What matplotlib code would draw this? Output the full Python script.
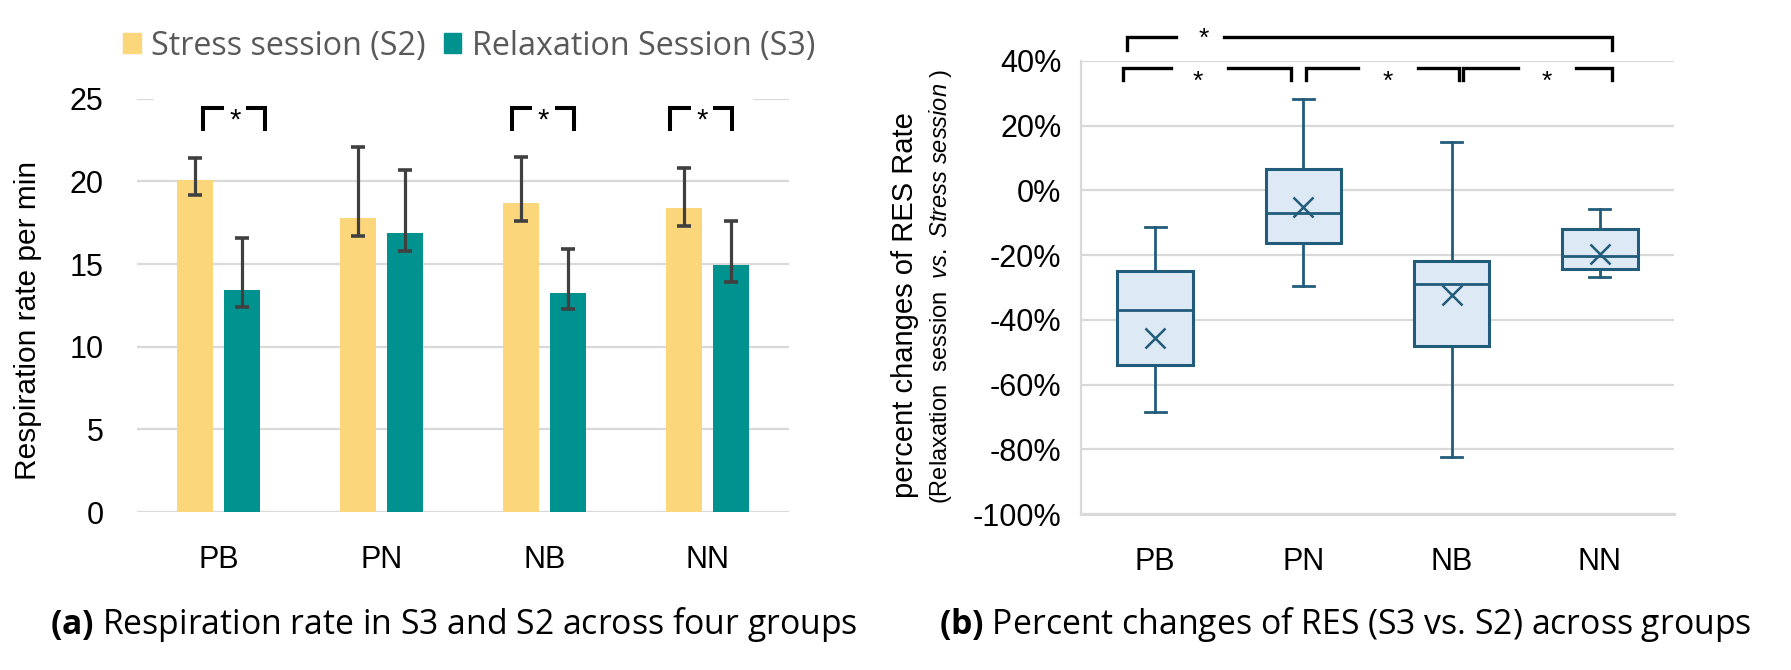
import matplotlib
matplotlib.use('Agg')
import matplotlib.pyplot as plt
from matplotlib.patches import Patch, Rectangle
import numpy as np

plt.rcParams['font.family'] = ['Liberation Sans', 'DejaVu Sans']
plt.rcParams['mathtext.fontset'] = 'custom'
plt.rcParams['mathtext.rm'] = 'Liberation Sans'
plt.rcParams['mathtext.it'] = 'Liberation Sans:italic'
plt.rcParams['mathtext.bf'] = 'Open Sans:bold'

groups = ['PB', 'PN', 'NB', 'NN']

# (a) respiration rate, mean with asymmetric error bars
stress_mean = [20.1, 17.8, 18.7, 18.4]
stress_low = [19.2, 16.7, 17.6, 17.3]
stress_high = [21.4, 22.1, 21.5, 20.8]
relax_mean = [13.4, 16.85, 13.25, 14.95]
relax_low = [12.4, 15.8, 12.25, 13.9]
relax_high = [16.6, 20.7, 15.9, 17.6]

# (b) percent change box plots
whis_lo = [-68.6, -29.6, -82.3, -26.9]
q1 = [-54.1, -16.1, -48.0, -24.2]
median = [-37.1, -6.9, -28.9, -20.3]
q3 = [-24.9, 6.5, -21.9, -11.9]
whis_hi = [-11.2, 28.4, 15.1, -5.6]
mean = [-45.7, -5.1, -32.4, -19.5]

YELLOW = '#FCD67A'
TEAL = '#00928F'
GRID = '#D9D9D9'
BOXC = '#215C7B'
BOXF = '#DDEAF6'

W, H = 1791, 670
fig = plt.figure(figsize=(W / 100, H / 100), dpi=100)

# ---------- (a) ----------
ax1 = fig.add_axes([137 / W, 1 - 512 / H, (789 - 137) / W, (512 - 98.7) / H])
x = np.arange(len(groups))
off, bw = 0.144, 0.22
s_mean = np.array(stress_mean)
r_mean = np.array(relax_mean)
ax1.bar(x - off, s_mean, bw, color=YELLOW, zorder=2)
ax1.bar(x + off, r_mean, bw, color=TEAL, zorder=2)
ekw = dict(fmt='none', ecolor='#404040', elinewidth=2.3, capsize=5, capthick=2.6, zorder=3)
ax1.errorbar(x - off, s_mean, yerr=[s_mean - np.array(stress_low), np.array(stress_high) - s_mean], **ekw)
ax1.errorbar(x + off, r_mean, yerr=[r_mean - np.array(relax_low), np.array(relax_high) - r_mean], **ekw)

ax1.set_xlim(-0.5, 3.5)
ax1.set_ylim(0, 25)
ax1.set_yticks([0, 5, 10, 15, 20, 25])
ax1.set_xticks(x)
ax1.set_xticklabels(groups)
ax1.yaxis.grid(True, color=GRID, lw=1.6)
ax1.set_axisbelow(True)
for s in ax1.spines.values():
    s.set_visible(False)
ax1.tick_params(axis='y', length=0, pad=24, labelsize=22)
ax1.tick_params(axis='x', length=0, pad=24, labelsize=22)
# white cover over top gridline
ax1.add_patch(Rectangle((-0.393, 24.6), 3.663, 0.8, color='white', zorder=1.5, clip_on=False))

# significance brackets
for c in [0.095, 1.988, 2.963]:
    ax1.plot([c - 0.19, c - 0.19, c - 0.074], [23.17, 24.41, 24.41], color='black', lw=2.9,
             solid_joinstyle='miter', clip_on=False, zorder=4)
    ax1.plot([c + 0.086, c + 0.19, c + 0.19], [24.41, 24.41, 23.17], color='black', lw=2.9,
             solid_joinstyle='miter', clip_on=False, zorder=4)
    ax1.text(c + 0.005, 23.65, '*', ha='center', va='center', fontsize=21, zorder=4)

fig.text(28 / W, 1 - 320 / H, 'Respiration rate per min', rotation=90, ha='center', va='center', fontsize=21.5)

handles = [Patch(color=YELLOW, label='Stress session (S2)'), Patch(color=TEAL, label='Relaxation Session (S3)')]
fig.legend(handles=handles, loc='center left', bbox_to_anchor=(123 / W, 1 - 46 / H), ncol=2, frameon=False,
           prop={'family': 'Open Sans', 'size': 23.2}, labelcolor='#595959', handlelength=0.55,
           handleheight=0.55, handletextpad=0.33, columnspacing=0.55, borderpad=0, borderaxespad=0)

# ---------- (b) ----------
ax2 = fig.add_axes([1081 / W, 1 - 514 / H, (1674 - 1081) / W, (514 - 61) / H])
stats = []
for i in range(len(groups)):
    stats.append(dict(whislo=whis_lo[i], q1=q1[i], med=median[i], q3=q3[i], whishi=whis_hi[i],
                      mean=mean[i], fliers=[], label=groups[i]))
ax2.bxp(stats, positions=x, widths=0.51, capwidths=0.14, showmeans=True, patch_artist=True,
        boxprops=dict(facecolor=BOXF, edgecolor=BOXC, linewidth=2.2),
        medianprops=dict(color=BOXC, linewidth=2.0),
        whiskerprops=dict(color=BOXC, linewidth=2.0),
        capprops=dict(color=BOXC, linewidth=2.0),
        meanprops=dict(marker='x', markeredgecolor=BOXC, markersize=14, markeredgewidth=1.8),
        zorder=3)
ax2.set_xlim(-0.5, 3.5)
ax2.set_ylim(-100, 40)
yt = [-100, -80, -60, -40, -20, 0, 20, 40]
ax2.set_yticks(yt)
ax2.set_yticklabels([f'{v}%' for v in yt])
ax2.set_xticks(x)
ax2.set_xticklabels(groups)
ax2.yaxis.grid(True, color=GRID, lw=1.6)
ax2.set_axisbelow(True)
ax2.spines['top'].set_visible(False)
ax2.spines['right'].set_visible(False)
ax2.spines['left'].set_color(GRID)
ax2.spines['left'].set_linewidth(1.6)
ax2.spines['bottom'].set_color(GRID)
ax2.spines['bottom'].set_linewidth(2.2)
ax2.tick_params(axis='y', length=0, pad=14, labelsize=22)
ax2.tick_params(axis='x', length=0, pad=24, labelsize=22)

bk = dict(color='black', lw=2.4, solid_joinstyle='miter', clip_on=False, zorder=4)
# top bracket PB-NN
ax2.plot([-0.19, -0.19, 0.141], [43.4, 47.5, 47.5], **bk)
ax2.plot([0.465, 3.08, 3.08], [47.5, 47.5, 43.4], **bk)
ax2.text(0.33, 46.8, '*', ha='center', va='center', fontsize=19)
# lower brackets
lower = [(-0.217, 0.107, 0.29, 0.49, 0.917),
         (1.02, 1.37, 1.57, 1.77, 2.05),
         (2.08, 2.45, 2.64, 2.84, 3.08)]
for a, b, s, c, d in lower:
    ax2.plot([a, a, b], [34.1, 37.8, 37.8], **bk)
    ax2.plot([c, d, d], [37.8, 37.8, 34.1], **bk)
    ax2.text(s, 33.6, '*', ha='center', va='center', fontsize=19)

fig.text(905 / W, 1 - 305 / H, 'percent changes of RES Rate', rotation=90, ha='center', va='center', fontsize=21)
fig.text(940 / W, 1 - 286 / H, r'(Relaxation  session  $\mathit{vs.\ Stress\ session}$ )', rotation=90,
         ha='center', va='center', fontsize=17)

# captions
cap_font = {'family': 'Open Sans', 'size': 24.3}
fig.text(50 / W, 1 - 624 / H, r'$\mathbf{(a)}$ Respiration rate in S3 and S2 across four groups',
         ha='left', va='center', fontdict=cap_font)
fig.text(939 / W, 1 - 624 / H, r'$\mathbf{(b)}$ Percent changes of RES (S3 vs. S2) across groups',
         ha='left', va='center', fontdict=cap_font)

fig.savefig('out.png', dpi=100)
